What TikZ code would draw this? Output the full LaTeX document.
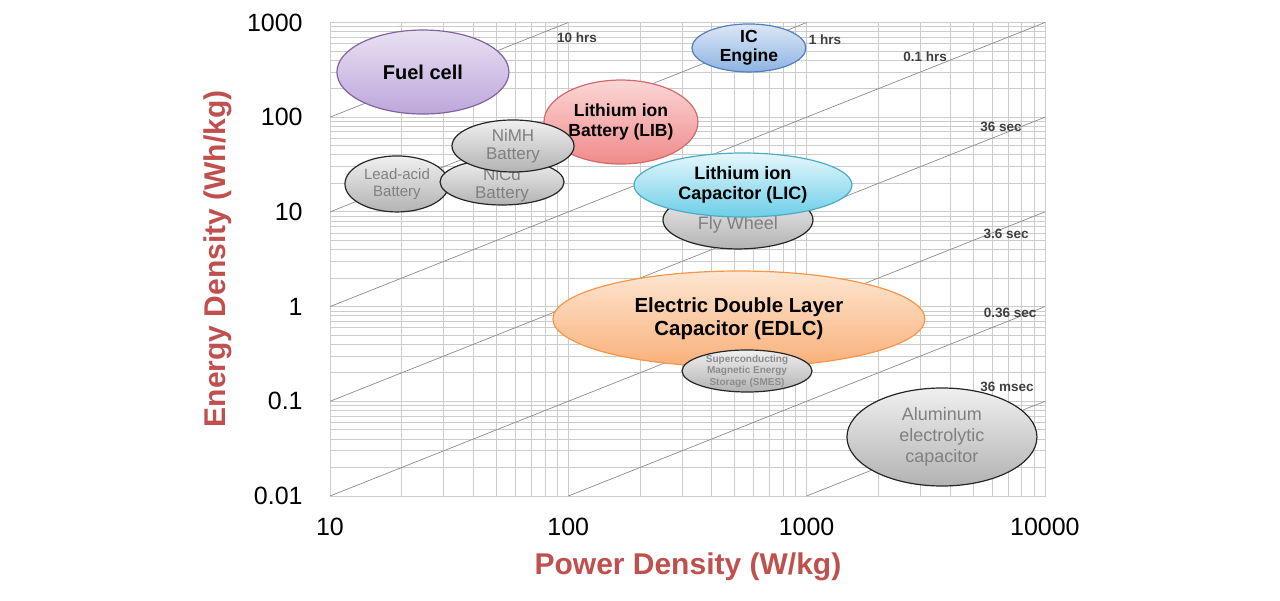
\documentclass[tikz,border=0pt]{standalone}
\usepackage{fontspec}
\setmainfont{Liberation Sans}
\usetikzlibrary{shapes.geometric}

\definecolor{axisred}{HTML}{C0504D}
\definecolor{durgray}{HTML}{404040}
\definecolor{fuelline}{HTML}{8064A2}
\definecolor{fueltop}{HTML}{E9E1F2}
\definecolor{fuelbot}{HTML}{BDA6DB}
\definecolor{icline}{HTML}{4F81BD}
\definecolor{ictop}{HTML}{DDE7F5}
\definecolor{icbot}{HTML}{8DB3E3}
\definecolor{libline}{HTML}{D36A6A}
\definecolor{libtop}{HTML}{FBD6D6}
\definecolor{libbot}{HTML}{F08A8A}
\definecolor{licline}{HTML}{4BACC6}
\definecolor{lictop}{HTML}{E6F7FC}
\definecolor{licbot}{HTML}{6CCEE8}
\definecolor{edlcline}{HTML}{F79646}
\definecolor{edlctop}{HTML}{FDE6D2}
\definecolor{edlcbot}{HTML}{F9B079}

\begin{document}
\begin{tikzpicture}[x=238.3pt,y=94.7pt,
  gridline/.style={draw=black!20,line width=0.8pt},
  timeline/.style={draw=black!45,line width=0.7pt},
  dur/.style={font=\fontsize{13.5}{15}\selectfont\bfseries,text=durgray},
  tick/.style={font=\fontsize{25}{27}\selectfont},
  axistitle/.style={font=\fontsize{30}{32}\selectfont\bfseries,text=axisred},
  graytext/.style={text=black!50,align=center,inner sep=0pt}]
  \tikzstyle{device}=[ellipse,draw,line width=1.2pt,inner sep=0pt,align=center]
  \tikzstyle{graydev}=[device,draw=black!85,top color=black!6,bottom color=black!30,text=black!50]
  \tikzstyle{fuel}=[device,draw=fuelline,top color=fueltop,bottom color=fuelbot]
  \tikzstyle{ic}=[device,draw=icline,top color=ictop,bottom color=icbot]
  \tikzstyle{lib}=[device,draw=libline,top color=libtop,bottom color=libbot]
  \tikzstyle{lic}=[device,draw=licline,top color=lictop,bottom color=licbot]
  \tikzstyle{edlc}=[device,draw=edlcline,top color=edlctop,bottom color=edlcbot]

  \useasboundingbox (-1.3848,-1.0982) rectangle (3.9866,5.2376);

  \foreach \d in {0,1,2}
    \foreach \m in {1,...,9}
      \draw[gridline] ({\d+log10(\m)},0) -- ++(0,5);
  \foreach \d in {0,...,4}
    \foreach \m in {1,...,9}
      \draw[gridline] (0,{\d+log10(\m)}) -- ++(3,0);
  \draw[gridline] (0,0) rectangle (3,5);

  \foreach \s in {4,...,-2}
    \draw[timeline] ({max(0,-\s)},{max(0,\s)}) -- ({min(3,5-\s)},{min(5,\s+3)});

  \node[dur] (h10)   at (1.037,4.836) {10 hrs};
  \node[dur] (h1)    at (2.077,4.815) {1 hrs};
  \node[dur] (h01)   at (2.497,4.636) {0.1 hrs};
  \node[dur] (s36)   at (2.816,3.897) {36 sec};
  \node[dur] (s3)    at (2.837,2.767) {3.6 sec};
  \node[dur] (s03)   at (2.854,1.932) {0.36 sec};
  \node[dur] (ms36)  at (2.841,1.151) {36 msec};

  \foreach \lab [count=\i from 0] in {10,100,1000,10000}
    \node[tick] (px\i) at (\i,-0.327) {\lab};
  \foreach \lab [count=\i from 0] in {0.01,0.1,1,10,100,1000}
    \node[tick,anchor=east] (ey\i) at (-0.1,\i) {\lab};

  \node[axistitle] (xtitle) at (1.502,-0.75) {Power Density (W/kg)};
  \node[axistitle,rotate=90] (ytitle) at (-0.47,2.503) {Energy Density (Wh/kg)};

  \node[fuel,minimum width=172pt,minimum height=84pt,font=\fontsize{20}{22}\selectfont\bfseries]
    (fuelcell) at (0.390,4.477) {Fuel cell};
  \node[ic,minimum width=114pt,minimum height=48pt,inner ysep=-1pt,font=\fontsize{17.5}{18.5}\selectfont\bfseries]
    (icengine) at (1.758,4.731) {IC\\Engine};
  \node[graydev,minimum width=104pt,minimum height=56pt,font=\fontsize{15}{17}\selectfont]
    (leadacid) at (0.281,3.295) {Lead-acid\\Battery};
  \node[graydev,minimum width=124pt,minimum height=46pt,
    label={[graytext,yshift=-3pt,font=\fontsize{17}{18}\selectfont]center:NiCd\\Battery}]
    (nicd) at (0.722,3.316) {};
  \node[lib,minimum width=154pt,minimum height=84pt,font=\fontsize{17.5}{20}\selectfont\bfseries]
    (libatt) at (1.221,3.949) {Lithium ion\\Battery (LIB)};
  \node[graydev,minimum width=122pt,minimum height=52pt,inner ysep=-2pt,font=\fontsize{17}{18}\selectfont]
    (nimh) at (0.768,3.696) {NiMH\\Battery};
  \node[graydev,minimum width=150pt,minimum height=58pt,
    label={[graytext,yshift=-5pt,font=\fontsize{18}{20}\selectfont]center:Fly Wheel}]
    (flywheel) at (1.712,2.915) {};
  \node[lic,minimum width=218pt,minimum height=64pt,font=\fontsize{18}{20.5}\selectfont\bfseries]
    (licap) at (1.733,3.284) {Lithium ion\\Capacitor (LIC)};
  \node[edlc,minimum width=372pt,minimum height=96pt,font=\fontsize{20.4}{23}\selectfont\bfseries]
    (edlcap) at (1.716,1.869) {Electric Double Layer\\Capacitor (EDLC)};
  \node[graydev,minimum width=130pt,minimum height=42pt,inner ysep=-3pt,text=black!45,font=\fontsize{10}{11.5}\selectfont\bfseries]
    (smes) at (1.750,1.320) {Superconducting\\Magnetic Energy\\Storage (SMES)};
  \node[graydev,minimum width=190pt,minimum height=98pt,font=\fontsize{18}{21}\selectfont]
    (alcap) at (2.568,0.623) {Aluminum\\electrolytic\\capacitor};
\end{tikzpicture}
\end{document}
